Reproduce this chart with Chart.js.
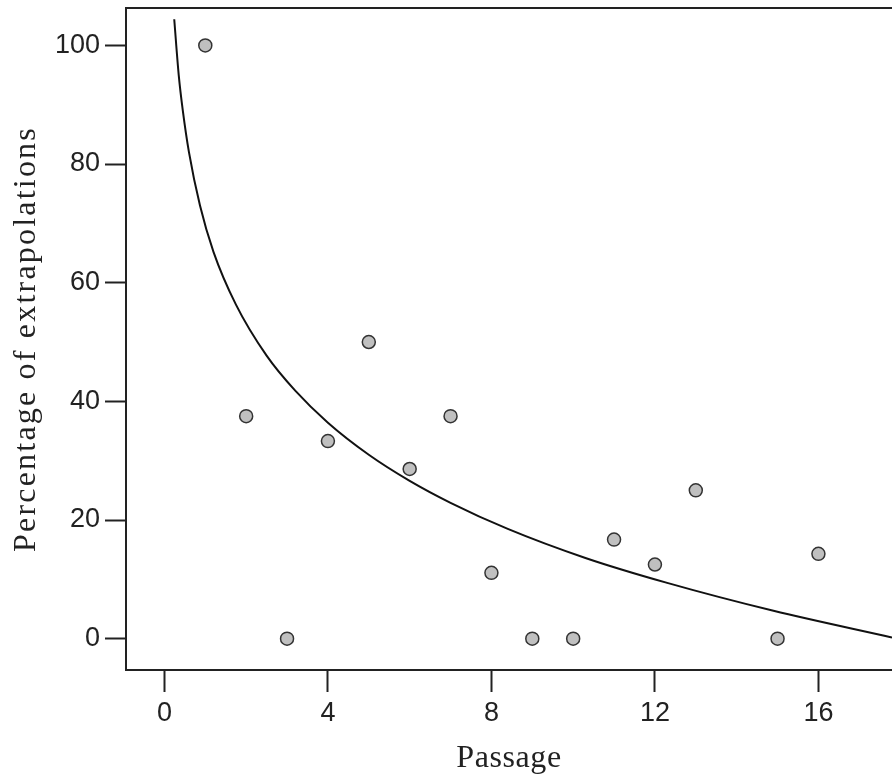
<!DOCTYPE html>
<html>
<head>
<meta charset="utf-8">
<script src="https://cdn.jsdelivr.net/npm/chart.js@4"></script>
<style>
  html, body { margin: 0; padding: 0; background: #fff; }
  #wrap { width: 892px; height: 784px; }
</style>
</head>
<body>
<div id="wrap"><canvas id="chart"></canvas></div>
<script>
// Observed values (passage vs percentage)
const passage = [1, 2, 3, 4, 5, 6, 7, 8, 9, 10, 11, 12, 13, 15, 16];
const percent = [100, 37.5, 0, 33.3, 50, 28.6, 37.5, 11.1, 0, 0, 16.7, 12.5, 25, 0, 14.3];

// Fitted curve, points
const curveX = [0.24, 0.35, 0.45, 0.6, 0.87, 1.2, 1.75, 2.5, 3.2, 4, 5, 6, 7, 8.4, 10.3, 12.3, 14.9, 17.8];
const curveY = [104.4, 95.0, 89.0, 82.0, 73.0, 65.2, 56.3, 47.7, 41.8, 36.4, 31.0, 26.6, 22.9, 18.5, 13.6, 9.4, 4.7, 0.2];

// Tick labels
const xTicks = [0, 4, 8, 12, 16];
const yTicks = [0, 20, 40, 60, 80, 100];

const tickFont = { family: "'Liberation Sans', Arial, sans-serif", size: 27 };
const titleFont = { family: "'Liberation Serif', 'Times New Roman', serif", size: 32 };
const ink = '#222';

// draws the top edge of the frame
const framePlugin = {
  id: 'frame',
  afterDraw(chart) {
    const { ctx, chartArea } = chart;
    ctx.save();
    ctx.strokeStyle = ink;
    ctx.lineWidth = 2;
    ctx.beginPath();
    ctx.moveTo(chartArea.left, chartArea.top);
    ctx.lineTo(chartArea.right, chartArea.top);
    ctx.stroke();
    ctx.restore();
  }
};

// the axis titles in the original are letter-spaced
const titleSpacing = { x: '0.6px', y: '2.2px' };
const spacingPlugin = {
  id: 'titleSpacing',
  beforeDraw(chart) {
    Object.keys(titleSpacing).forEach(id => {
      const scale = chart.scales[id];
      if (!scale || scale._spaced) return;
      const orig = scale.drawTitle.bind(scale);
      scale.drawTitle = function() {
        const ctx = this.ctx;
        const prev = ctx.letterSpacing;
        ctx.letterSpacing = titleSpacing[id];
        orig();
        ctx.letterSpacing = prev || '0px';
      };
      scale._spaced = true;
    });
  }
};

new Chart(document.getElementById('chart'), {
  type: 'scatter',
  data: {
    datasets: [
      {
        label: 'Fit',
        type: 'line',
        data: curveX.map((x, i) => ({ x: x, y: curveY[i] })),
        borderColor: '#111',
        borderWidth: 2,
        pointRadius: 0,
        fill: false,
        cubicInterpolationMode: 'monotone'
      },
      {
        label: 'Observed',
        data: passage.map((x, i) => ({ x: x, y: percent[i] })),
        backgroundColor: '#c0c0c0',
        borderColor: '#333',
        borderWidth: 1.5,
        pointRadius: 6.5,
        pointHoverRadius: 6.5
      }
    ]
  },
  options: {
    responsive: true,
    maintainAspectRatio: false,
    animation: false,
    layout: { autoPadding: false, padding: { top: 8, right: 0, bottom: 0, left: 0 } },
    plugins: {
      legend: { display: false },
      tooltip: { enabled: false }
    },
    scales: {
      x: {
        type: 'linear',
        min: -0.94,
        max: 17.8,
        afterBuildTicks: (scale) => { scale.ticks = xTicks.map(v => ({ value: v })); },
        afterFit: (scale) => {
          scale.height = 114;
          scale.paddingLeft = 0;
          scale.paddingRight = 0;
        },
        grid: {
          drawOnChartArea: false,
          drawTicks: true,
          tickLength: 22,
          tickWidth: 2,
          tickColor: ink
        },
        border: { display: true, color: ink, width: 2 },
        ticks: { color: ink, font: tickFont, padding: 5, maxRotation: 0 },
        title: {
          display: true,
          text: 'Passage',
          color: ink,
          font: titleFont,
          padding: { top: 0, bottom: 6 }
        }
      },
      y: {
        min: -5.28,
        max: 106.3,
        afterBuildTicks: (scale) => { scale.ticks = yTicks.map(v => ({ value: v })); },
        afterFit: (scale) => {
          scale.width = 126;
          scale.paddingTop = 0;
          scale.paddingBottom = 0;
        },
        grid: {
          drawOnChartArea: false,
          drawTicks: true,
          tickLength: 21,
          tickWidth: 2,
          tickColor: ink
        },
        border: { display: true, color: ink, width: 2 },
        ticks: { color: ink, font: tickFont, padding: 5 },
        title: {
          display: true,
          text: 'Percentage of extrapolations',
          color: ink,
          font: titleFont,
          padding: { top: 7, bottom: 0 }
        }
      }
    }
  },
  plugins: [framePlugin, spacingPlugin]
});
</script>
</body>
</html>
